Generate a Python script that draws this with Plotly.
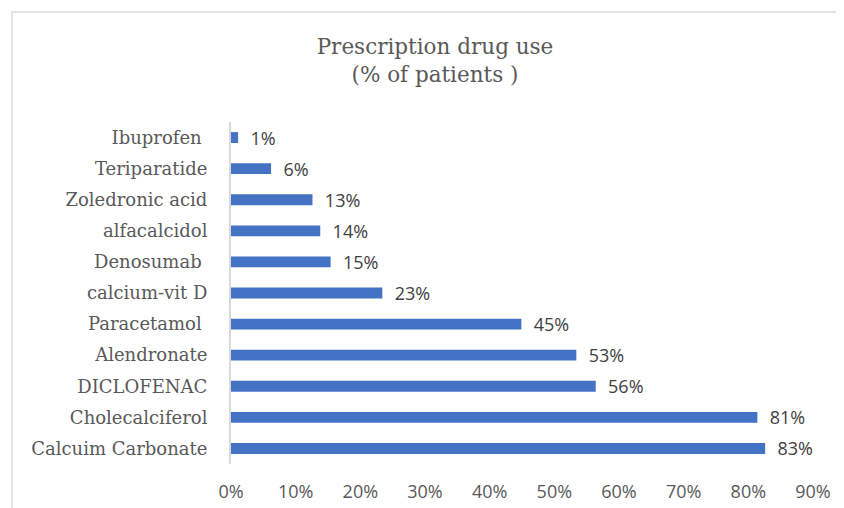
import plotly.graph_objects as go

categories = ["Calcuim Carbonate", "Cholecalciferol", "DICLOFENAC", "Alendronate",
              "Paracetamol\u00a0", "calcium-vit D", "Denosumab\u00a0", "alfacalcidol",
              "Zoledronic acid", "Teriparatide", "Ibuprofen\u00a0"]
values = [82.6, 81.4, 56.4, 53.4, 44.9, 23.4, 15.4, 13.8, 12.6, 6.2, 1.1]
tick_vals = [0, 10, 20, 30, 40, 50, 60, 70, 80, 90]
tick_text = ["0%", "10%", "20%", "30%", "40%", "50%", "60%", "70%", "80%", "90%"]
title_text = "Prescription drug use<br>(% of patients )"

# page has an 8px body margin; figure coords = screen coords - 8
W, H = 836, 500
ml, mr, mt, mb = 223, 31, 114, 44
pw, ph = W - ml - mr, H - mt - mb

fig = go.Figure(go.Bar(
    x=values, y=categories, orientation="h",
    marker=dict(color="#4472C4", line=dict(width=0)),
    texttemplate="\u00a0\u00a0%{x:.0f}%", textposition="outside",
    constraintext="none",
    textfont=dict(family="Open Sans", size=18, color="#404040"),
    cliponaxis=False, width=0.35, hoverinfo="skip",
))

fig.update_layout(
    width=W, height=H,
    margin=dict(l=ml, r=mr, t=mt, b=mb, autoexpand=False),
    paper_bgcolor="white", plot_bgcolor="white",
    showlegend=False,
    title=dict(text=title_text, x=427 / W, xanchor="center", xref="container",
               y=1 - 46 / H, yanchor="top", yref="container",
               font=dict(family="DejaVu Serif", size=21.5, color="#595959")),
    xaxis=dict(range=[0, 90], tickvals=tick_vals, ticktext=tick_text,
               showgrid=False, zeroline=False, showline=False, automargin=False,
               tickfont=dict(family="Open Sans", size=18, color="#595959"),
               ticklabelstandoff=15, fixedrange=True),
    yaxis=dict(categoryorder="array", categoryarray=categories,
               showgrid=False, zeroline=False, showline=True, automargin=False,
               linecolor="#d9d9d9", linewidth=2,
               tickfont=dict(family="DejaVu Serif", size=18, color="#595959"),
               ticklabelstandoff=18, fixedrange=True),
    shapes=[dict(type="rect", xref="paper", yref="paper",
                 x0=(4 - ml) / pw, x1=(W + 20 - ml) / pw,
                 y0=-(H + 20 - mt - ph) / ph, y1=1 + (mt - 4) / ph,
                 line=dict(color="#d9d9d9", width=1.5), layer="below")],
)

fig.write_html("out.html")
